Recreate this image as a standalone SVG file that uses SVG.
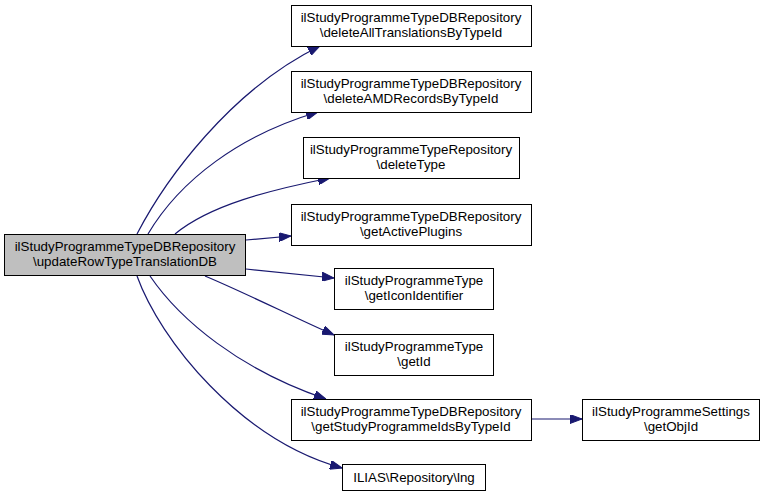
<svg xmlns="http://www.w3.org/2000/svg" width="764" height="495" viewBox="0 0 764 495">
<defs>
<style>
.n rect{fill:#ffffff;stroke:#000000;stroke-width:1}
.n.main rect{fill:#bfbfbf}
.n text{font-family:"Liberation Sans",Arial,sans-serif;font-size:13.33px;fill:#000000;text-anchor:middle}
.e path{fill:none;stroke:#191970;stroke-width:1.2}
</style>
<marker id="ah" markerUnits="userSpaceOnUse" markerWidth="12" markerHeight="9" refX="12" refY="4.5" orient="auto">
<path d="M0,0 L12,4.5 L0,9 Z" fill="#191970" stroke="#191970" stroke-width="1"/>
</marker>
</defs>
<rect width="764" height="495" fill="#ffffff"/>
<g class="e">
<path marker-end="url(#ah)" d="M137,234 C165,180 230,90 320,46"/>
<path marker-end="url(#ah)" d="M148,234 C180,180 240,135 318,112"/>
<path marker-end="url(#ah)" d="M175,234 C210,205 270,190 330,178"/>
<path marker-end="url(#ah)" d="M246,240 L291,236"/>
<path marker-end="url(#ah)" d="M246,269 L334,278"/>
<path marker-end="url(#ah)" d="M205,276 C250,295 295,318 334,335"/>
<path marker-end="url(#ah)" d="M150,276 C180,320 240,370 326,399"/>
<path marker-end="url(#ah)" d="M137,276 C160,340 240,440 342,468"/>
<path marker-end="url(#ah)" d="M531,419 L582,419"/>
</g>
<g id="main" class="n main"><rect x="4.5" y="234.5" width="241" height="41"/><text x="125" y="250.5">ilStudyProgrammeTypeDBRepository</text><text x="125" y="265.5">\updateRowTypeTranslationDB</text></g>
<g id="n1" class="n"><rect x="291.5" y="5.5" width="240" height="41"/><text x="411" y="21.5">ilStudyProgrammeTypeDBRepository</text><text x="411" y="36.5">\deleteAllTranslationsByTypeId</text></g>
<g id="n2" class="n"><rect x="291.5" y="71.5" width="240" height="41"/><text x="411" y="87.5">ilStudyProgrammeTypeDBRepository</text><text x="411" y="102.5">\deleteAMDRecordsByTypeId</text></g>
<g id="n3" class="n"><rect x="303.5" y="137.5" width="216" height="41"/><text x="411" y="153.5">ilStudyProgrammeTypeRepository</text><text x="411" y="168.5">\deleteType</text></g>
<g id="n4" class="n"><rect x="291.5" y="204.5" width="240" height="41"/><text x="411" y="220.5">ilStudyProgrammeTypeDBRepository</text><text x="411" y="235.5">\getActivePlugins</text></g>
<g id="n5" class="n"><rect x="334.5" y="268.5" width="159" height="41"/><text x="414" y="284.5">ilStudyProgrammeType</text><text x="414" y="299.5">\getIconIdentifier</text></g>
<g id="n6" class="n"><rect x="334.5" y="334.5" width="159" height="41"/><text x="414" y="350.5">ilStudyProgrammeType</text><text x="414" y="365.5">\getId</text></g>
<g id="n7" class="n"><rect x="291.5" y="399.5" width="240" height="41"/><text x="411" y="415.5">ilStudyProgrammeTypeDBRepository</text><text x="411" y="430.5">\getStudyProgrammeIdsByTypeId</text></g>
<g id="n8" class="n"><rect x="582.5" y="399.5" width="177" height="41"/><text x="671" y="415.5">ilStudyProgrammeSettings</text><text x="671" y="430.5">\getObjId</text></g>
<g id="n9" class="n"><rect x="342.5" y="464.5" width="143" height="26"/><text x="414" y="482">ILIAS\Repository\lng</text></g>
</svg>
